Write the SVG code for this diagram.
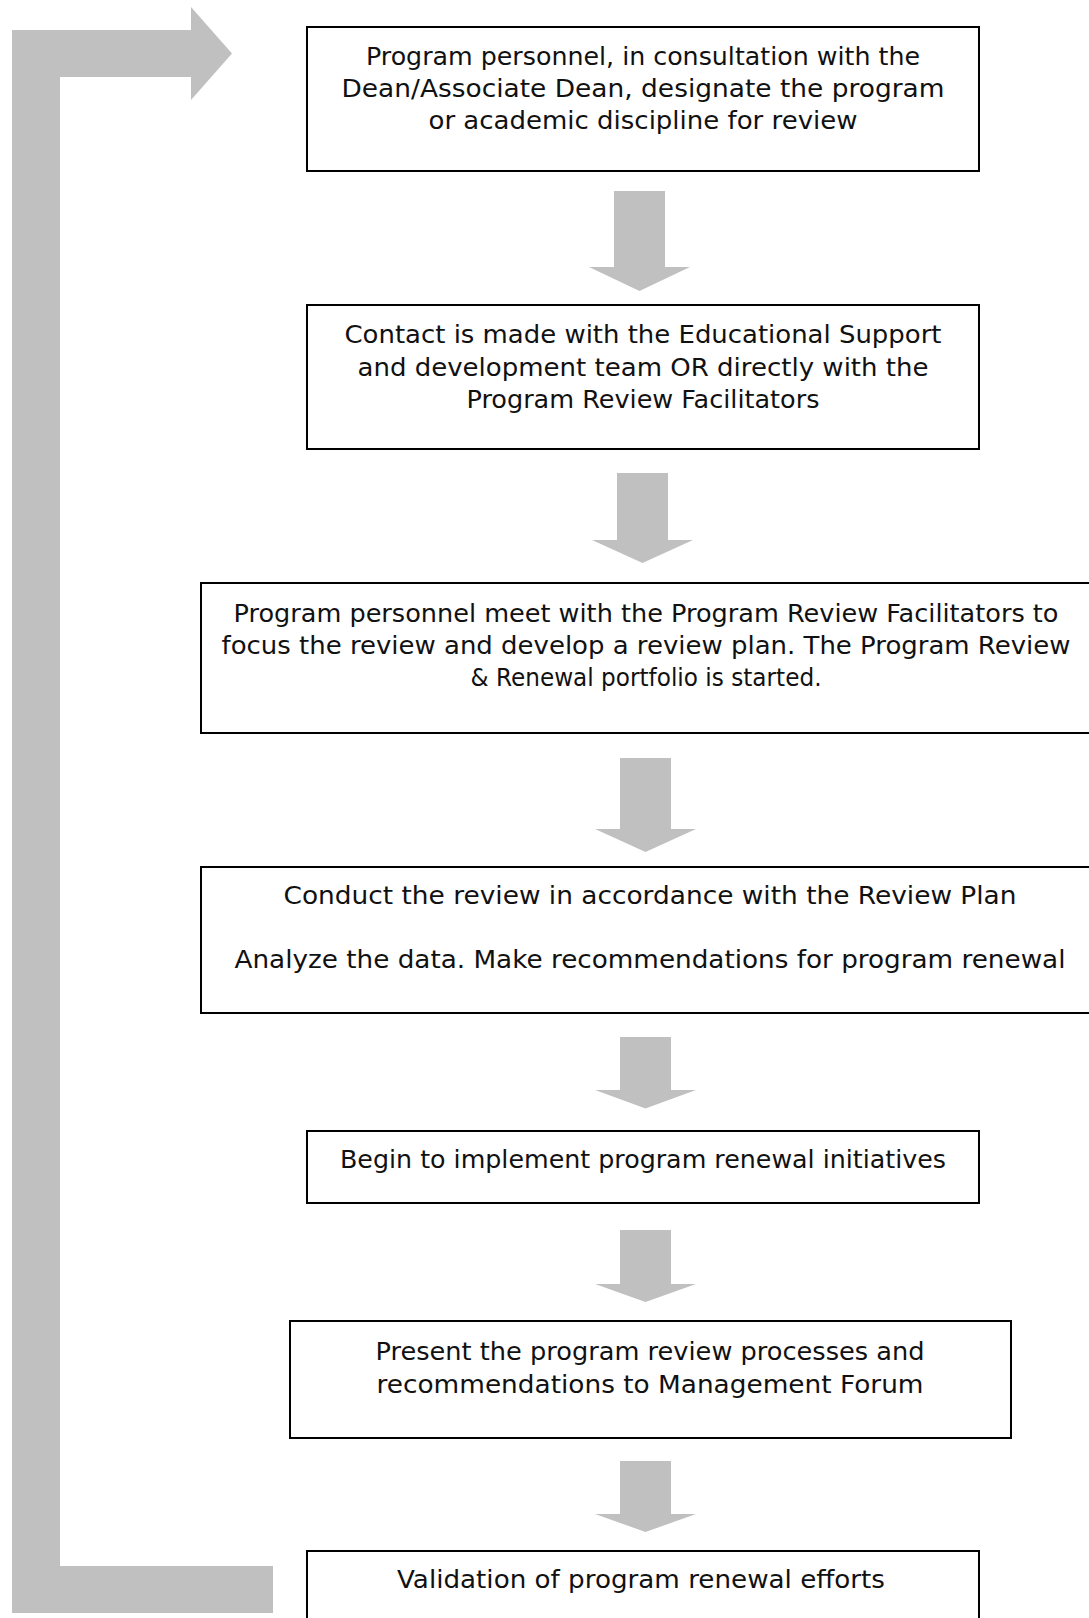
<svg xmlns="http://www.w3.org/2000/svg" width="1089" height="1618" viewBox="0 0 1089 1618">
  <style>
    .box { fill: #ffffff; stroke: #000000; stroke-width: 2; }
    .lbl { font-family: "DejaVu Sans", "Liberation Sans", sans-serif; font-size: 24.5px; fill: #111111; text-anchor: middle; }
    .arrow { fill: #c0c0c0; stroke: none; }
  </style>
  <rect width="1089" height="1618" fill="#ffffff"/>

  <!-- block arrows between the steps, plus the return loop -->
  <g id="connectors">
    <path id="loop" class="arrow" d="M12,1613 L12,30 L191,30 L191,7 L232,53.5 L191,100 L191,77 L60,77 L60,1566 L273,1566 L273,1613 Z"/>
    <path class="arrow" d="M614,191 L665,191 L665,267 L690,267 L639.5,291 L589,267 L614,267 Z"/>
    <path class="arrow" d="M617,473 L668,473 L668,540 L693,540 L642.5,563 L592,540 L617,540 Z"/>
    <path class="arrow" d="M620,758 L671,758 L671,829 L696,829 L645.5,852 L595,829 L620,829 Z"/>
    <path class="arrow" d="M620,1037 L671,1037 L671,1090 L696,1090 L645.5,1108.5 L595,1090 L620,1090 Z"/>
    <path class="arrow" d="M620,1230 L671,1230 L671,1284 L696,1284 L645.5,1302 L595,1284 L620,1284 Z"/>
    <path class="arrow" d="M620,1461 L671,1461 L671,1514 L696,1514 L645.5,1532 L595,1514 L620,1514 Z"/>
  </g>

  <g id="step1">
    <rect class="box" x="307" y="27" width="672" height="144"/>
    <text class="lbl" x="643" y="65" textLength="554" lengthAdjust="spacingAndGlyphs">Program personnel, in consultation with the</text>
    <text class="lbl" x="643" y="97" textLength="603" lengthAdjust="spacingAndGlyphs">Dean/Associate Dean, designate the program</text>
    <text class="lbl" x="643" y="129" textLength="429" lengthAdjust="spacingAndGlyphs">or academic discipline for review</text>
  </g>

  <g id="step2">
    <rect class="box" x="307" y="305" width="672" height="144"/>
    <text class="lbl" x="643" y="343" textLength="597" lengthAdjust="spacingAndGlyphs">Contact is made with the Educational Support</text>
    <text class="lbl" x="643" y="376" textLength="571" lengthAdjust="spacingAndGlyphs">and development team OR directly with the</text>
    <text class="lbl" x="643" y="408" textLength="353" lengthAdjust="spacingAndGlyphs">Program Review Facilitators</text>
  </g>

  <g id="step3">
    <rect class="box" x="201" y="583" width="890" height="150"/>
    <text class="lbl" x="646" y="622" textLength="825" lengthAdjust="spacingAndGlyphs">Program personnel meet with the Program Review Facilitators to</text>
    <text class="lbl" x="646" y="654" textLength="849" lengthAdjust="spacingAndGlyphs">focus the review and develop a review plan. The Program Review</text>
    <text class="lbl" x="646" y="686" textLength="351" lengthAdjust="spacingAndGlyphs">&amp; Renewal portfolio is started.</text>
  </g>

  <g id="step4">
    <rect class="box" x="201" y="867" width="890" height="146"/>
    <text class="lbl" x="650" y="904" textLength="733" lengthAdjust="spacingAndGlyphs">Conduct the review in accordance with the Review Plan</text>
    <text class="lbl" x="650" y="968" textLength="831" lengthAdjust="spacingAndGlyphs">Analyze the data. Make recommendations for program renewal</text>
  </g>

  <g id="step5">
    <rect class="box" x="307" y="1131" width="672" height="72"/>
    <text class="lbl" x="643" y="1168" textLength="606" lengthAdjust="spacingAndGlyphs">Begin to implement program renewal initiatives</text>
  </g>

  <g id="step6">
    <rect class="box" x="290" y="1321" width="721" height="117"/>
    <text class="lbl" x="650" y="1360" textLength="549" lengthAdjust="spacingAndGlyphs">Present the program review processes and</text>
    <text class="lbl" x="650" y="1393" textLength="547" lengthAdjust="spacingAndGlyphs">recommendations to Management Forum</text>
  </g>

  <g id="step7">
    <rect class="box" x="307" y="1551" width="672" height="80"/>
    <text class="lbl" x="641" y="1588" textLength="488" lengthAdjust="spacingAndGlyphs">Validation of program renewal efforts</text>
  </g>
</svg>
